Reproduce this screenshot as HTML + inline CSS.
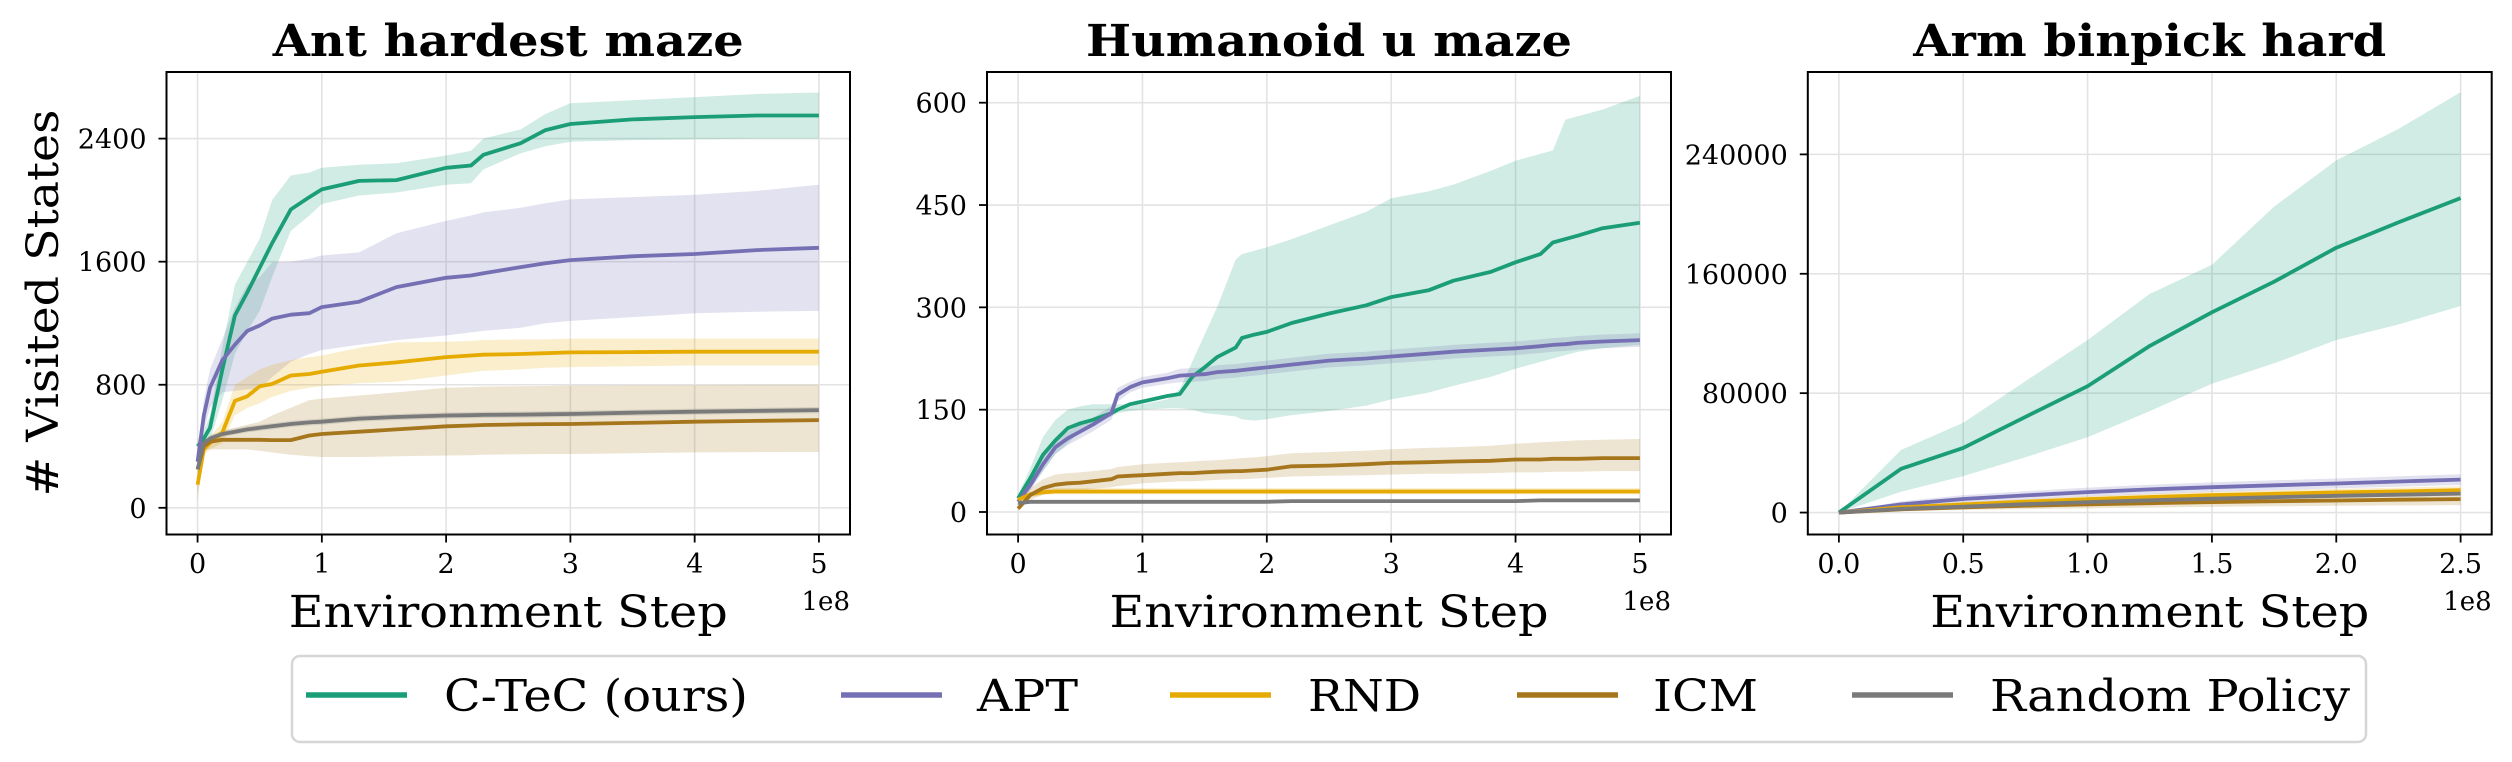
<!DOCTYPE html>
<html><head><meta charset="utf-8"><style>
html,body{margin:0;padding:0;background:#fff;}
svg{display:block;font-family:"DejaVu Serif","Liberation Serif",serif;}
</style></head><body>
<svg id="fig" width="2512" height="762" viewBox="0 0 2512 762" xmlns="http://www.w3.org/2000/svg"></svg>
<script>
// ---- Panel 1: Ant hardest maze (x in 1e8) ----
const antX      = [0,0.05,0.1,0.2,0.3,0.4,0.5,0.6,0.75,0.9,1.0,1.3,1.6,2.0,2.2,2.3,2.6,2.8,3.0,3.5,4.0,4.5,5.0];
const antCtec   = [400,450,520,900,1250,1400,1560,1720,1940,2020,2070,2125,2130,2210,2225,2295,2370,2455,2495,2525,2540,2550,2550];
const antCtecLo = [380,400,440,700,1000,1150,1280,1500,1800,1900,1975,2030,2050,2100,2110,2200,2305,2350,2380,2390,2395,2400,2400];
const antCtecHi = [420,500,600,1050,1450,1600,1750,2000,2160,2180,2210,2230,2240,2290,2320,2400,2460,2560,2630,2650,2670,2690,2700];
const antApt    = [300,600,780,960,1060,1150,1185,1230,1255,1265,1305,1340,1435,1495,1510,1525,1565,1590,1610,1635,1650,1675,1690];
const antAptLo  = [280,500,650,750,760,770,775,850,950,1000,1025,1060,1090,1120,1140,1150,1170,1200,1215,1240,1265,1275,1280];
const antAptHi  = [320,700,900,1100,1300,1450,1500,1595,1600,1620,1640,1660,1785,1865,1900,1920,1950,1980,2005,2020,2035,2060,2100];
const antRnd    = [150,380,420,490,695,725,790,805,860,870,885,925,945,980,990,995,1000,1005,1010,1012,1015,1015,1015];
const antRndLo  = [100,340,380,420,600,650,680,720,760,780,790,810,820,860,880,890,900,910,915,920,925,925,925];
const antRndHi  = [200,420,460,560,800,850,900,930,960,980,990,1040,1075,1080,1085,1090,1095,1095,1100,1100,1100,1100,1100];
const antIcm    = [250,400,430,442,442,442,442,440,440,470,480,495,510,530,535,538,542,544,545,552,560,565,570];
const antIcmLo  = [50,370,380,380,380,380,370,360,345,335,330,330,335,340,342,345,348,350,350,355,360,362,363];
const antIcmHi  = [450,430,470,500,520,540,560,600,650,700,710,730,750,780,785,788,790,792,795,797,798,800,800];
const antRand   = [250,420,450,480,495,510,520,530,545,555,560,580,590,600,602,604,606,608,610,618,625,630,635];
const antRandLo = [230,400,430,460,475,490,500,510,525,535,540,560,570,580,582,584,586,588,590,598,605,610,615];
const antRandHi = [270,440,470,500,515,530,540,550,565,575,580,600,610,620,622,624,626,628,630,638,645,650,655];
const antYTicks = [0,800,1600,2400];
const antYTickLabels = ["0","800","1600","2400"];
const antXTicks = [0,1,2,3,4,5];
const antXTickLabels = ["0","1","2","3","4","5"];

// ---- Panel 2: Humanoid u maze ----
const humX      = [0,0.1,0.2,0.3,0.4,0.5,0.6,0.75,0.8,0.9,1.0,1.2,1.3,1.4,1.5,1.6,1.75,1.8,1.9,2.0,2.2,2.5,2.8,3.0,3.3,3.5,3.8,4.0,4.2,4.3,4.4,4.5,4.7,5.0];
const humCtec   = [20,50,84,105,123,130,135,145,150,158,162,170,173,198,212,227,241,255,260,264,277,291,303,315,325,339,352,366,378,395,400,405,416,424];
const humCtecLo = [15,35,60,85,100,118,130,140,145,148,150,152,152,150,145,143,140,136,134,136,142,148,156,165,175,185,198,210,220,225,230,235,240,245];
const humCtecHi = [25,65,110,135,150,155,158,158,158,158,158,165,180,220,260,300,370,378,383,388,400,420,440,460,470,480,500,515,525,530,575,580,590,610];
const humApt    = [15,40,70,95,108,118,128,145,172,183,190,196,200,201,202,205,207,208,210,212,216,222,225,228,232,235,238,240,243,245,246,248,250,252];
const humAptLo  = [12,32,60,85,98,108,118,135,162,175,182,188,190,191,192,195,197,198,200,202,206,212,215,218,222,225,228,230,233,235,236,238,240,242];
const humAptHi  = [18,48,80,105,118,128,138,155,182,191,198,204,210,211,212,215,217,218,220,222,226,232,235,238,242,245,248,250,253,255,256,258,260,262];
const humRnd    = [18,26,29,30,30,30,30,30,30,30,30,30,30,30,30,30,30,30,30,30,30,30,30,30,30,30,30,30,30,30,30,30,30,30];
const humRndLo  = [14,22,25,26,26,26,26,26,26,26,26,26,26,26,26,26,26,26,26,26,26,26,26,26,26,26,26,26,26,26,26,26,26,26];
const humRndHi  = [22,30,33,35,35,35,35,35,35,35,35,35,35,35,35,35,35,35,35,35,35,35,35,35,35,35,35,35,35,35,35,35,35,35];
const humIcm    = [5,25,35,40,42,43,45,48,52,53,54,56,57,57,58,59,60,60,61,62,67,68,70,72,73,74,75,77,77,78,78,78,79,79];
const humIcmLo  = [2,18,25,28,30,32,34,36,38,40,42,44,45,45,46,47,48,48,49,50,52,53,54,55,56,56,57,58,58,59,59,59,60,60];
const humIcmHi  = [8,35,48,55,57,58,60,63,66,68,70,72,73,74,75,76,78,79,80,82,86,88,90,92,94,95,97,100,102,103,104,105,106,107];
const humRand   = [13,15,15,15,15,15,15,15,15,15,15,15,15,15,15,15,15,15,15,15,16,16,16,16,16,16,16,16,17,17,17,17,17,17];
const humRandLo = [12,14,14,14,14,14,14,14,14,14,14,14,14,14,14,14,14,14,14,14,15,15,15,15,15,15,15,15,16,16,16,16,16,16];
const humRandHi = [14,16,16,16,16,16,16,16,16,16,16,16,16,16,16,16,16,16,16,16,17,17,17,17,17,17,17,17,18,18,18,18,18,18];
const humYTicks = [0,150,300,450,600];
const humYTickLabels = ["0","150","300","450","600"];
const humXTicks = [0,1,2,3,4,5];
const humXTickLabels = ["0","1","2","3","4","5"];

// ---- Panel 3: Arm binpick hard ----
const armX      = [0,0.25,0.5,0.75,1.0,1.25,1.5,1.75,2.0,2.25,2.5];
const armCtec   = [0,29300,43300,64100,84700,111700,134200,154700,177500,194400,210700];
const armCtecLo = [0,14000,24400,37000,50500,68000,86300,100000,115600,126000,138400];
const armCtecHi = [0,42000,60200,88000,115600,146500,166000,205000,236000,257000,281700];
const armApt    = [0,5500,9100,11500,13700,15500,17000,18300,19500,20800,22100];
const armAptLo  = [0,3500,6500,8700,10700,12300,13800,15000,16200,17300,18500];
const armAptHi  = [0,7500,11700,14300,16700,18700,20200,21600,22800,24300,25700];
const armRnd    = [0,3500,5500,7300,9000,10400,11600,12600,13500,14200,15000];
const armRndLo  = [0,2500,4000,5500,7000,8200,9300,10200,11000,11700,12400];
const armRndHi  = [0,4500,7000,9100,11000,12600,13900,15000,16000,16700,17600];
const armIcm    = [0,2200,3500,4600,5500,6300,7000,7600,8100,8600,9000];
const armIcmLo  = [0,1000,1700,2300,2800,3300,3800,4200,4500,4800,5000];
const armIcmHi  = [0,3400,5300,6900,8200,9300,10300,11100,11800,12400,13000];
const armRand   = [0,2500,4000,5600,7000,8200,9300,10300,11200,12000,12700];
const armRandLo = [0,2000,3300,4800,6100,7200,8200,9100,10000,10700,11400];
const armRandHi = [0,3000,4700,6400,7900,9200,10400,11500,12400,13300,14000];
const armYTicks = [0,80000,160000,240000];
const armYTickLabels = ["0","80000","160000","240000"];
const armXTicks = [0,0.5,1.0,1.5,2.0,2.5];
const armXTickLabels = ["0.0","0.5","1.0","1.5","2.0","2.5"];

const legendLabels = ["C-TeC (ours)","APT","RND","ICM","Random Policy"];
const colors = ["#1b9e77","#7570b3","#e6ab02","#a6761d","#7a7a7a"];
const seriesKeys = ["c-tec","apt","rnd","icm","random-policy"];

const NS = "http://www.w3.org/2000/svg";
const svg = document.getElementById("fig");
function mk(tag, attrs, parent){ const e=document.createElementNS(NS,tag); for(const k in attrs) e.setAttribute(k,attrs[k]); (parent||svg).appendChild(e); return e; }

function panel(cfg){
  const g = mk("g",{});
  
  
  const L=cfg.left,R=cfg.right,T=72,B=534.5;
  const xs = v => L + (v-cfg.xmin)/(cfg.xmax-cfg.xmin)*(R-L);
  const ys = v => B - (v-cfg.ymin)/(cfg.ymax-cfg.ymin)*(B-T);
  cfg.xticks.forEach(t=>{ const l=mk("line",{x1:xs(t),x2:xs(t),y1:T,y2:B,stroke:"#e3e3e3","stroke-width":1.6},g);
      });
  cfg.yticks.forEach(t=>{ const l=mk("line",{x1:L,x2:R,y1:ys(t),y2:ys(t),stroke:"#e3e3e3","stroke-width":1.6},g);
      });
  const clip = mk("clipPath",{id:"clip-"+cfg.name},g); mk("rect",{x:L,y:T,width:R-L,height:B-T},clip);
  const plot = mk("g",{"clip-path":"url(#clip-"+cfg.name+")"},g);
  cfg.series.forEach((s,i)=>{
    let d="M"+cfg.x.map((x,j)=>xs(x).toFixed(1)+","+ys(s.hi[j]).toFixed(1)).join("L");
    for(let j=cfg.x.length-1;j>=0;j--) d+="L"+xs(cfg.x[j]).toFixed(1)+","+ys(s.lo[j]).toFixed(1);
    const p=mk("path",{d:d+"Z",fill:colors[i],"fill-opacity":0.2,stroke:"none"},plot);
    
    
  });
  cfg.series.forEach((s,i)=>{
    const pts=cfg.x.map((x,j)=>xs(x).toFixed(1)+","+ys(s.mean[j]).toFixed(1)).join(" ");
    const p=mk("polyline",{points:pts,fill:"none",stroke:colors[i],"stroke-width":3.8,"stroke-linejoin":"round"},plot);
    
    
  });
  const fr=mk("rect",{x:L,y:T,width:R-L,height:B-T,fill:"none",stroke:"#000","stroke-width":2},g);
   
  cfg.xticks.forEach((t,i)=>{
    mk("line",{x1:xs(t),x2:xs(t),y1:B,y2:B+8,stroke:"#000","stroke-width":1.8},g);
    const tx=mk("text",{x:xs(t),y:573,"font-size":27,"text-anchor":"middle"},g); tx.textContent=cfg.xlabels[i];
     
  });
  cfg.yticks.forEach((t,i)=>{
    mk("line",{x1:L-8,x2:L,y1:ys(t),y2:ys(t),stroke:"#000","stroke-width":1.8},g);
    const tx=mk("text",{x:L-20,y:ys(t)+10,"font-size":27,"text-anchor":"end"},g); tx.textContent=cfg.ylabels[i];
     
  });
  const cx=(L+R)/2;
  const ti=mk("text",{x:cx,y:56,"font-size":44,"font-weight":"bold","text-anchor":"middle",textLength:cfg.titleLen,lengthAdjust:"spacingAndGlyphs"},g);
  ti.textContent=cfg.title;  
  const xl=mk("text",{x:cx,y:627,"font-size":44,"text-anchor":"middle",textLength:439,lengthAdjust:"spacingAndGlyphs"},g);
  xl.textContent="Environment Step";  
  const ex=mk("text",{x:R,y:610,"font-size":26,"text-anchor":"end"},g);
  ex.textContent="1e8";  
}

panel({name:"ant-hardest-maze",title:"Ant hardest maze",titleLen:471,left:166.5,right:850,xmin:-0.25,xmax:5.25,ymin:-173.5,ymax:2833,
  x:antX,xticks:antXTicks,xlabels:antXTickLabels,yticks:antYTicks,ylabels:antYTickLabels,
  series:[{mean:antCtec,lo:antCtecLo,hi:antCtecHi},{mean:antApt,lo:antAptLo,hi:antAptHi},{mean:antRnd,lo:antRndLo,hi:antRndHi},{mean:antIcm,lo:antIcmLo,hi:antIcmHi},{mean:antRand,lo:antRandLo,hi:antRandHi}]});
panel({name:"humanoid-u-maze",title:"Humanoid u maze",titleLen:486,left:987,right:1671,xmin:-0.25,xmax:5.25,ymin:-33,ymax:645,
  x:humX,xticks:humXTicks,xlabels:humXTickLabels,yticks:humYTicks,ylabels:humYTickLabels,
  series:[{mean:humCtec,lo:humCtecLo,hi:humCtecHi},{mean:humApt,lo:humAptLo,hi:humAptHi},{mean:humRnd,lo:humRndLo,hi:humRndHi},{mean:humIcm,lo:humIcmLo,hi:humIcmHi},{mean:humRand,lo:humRandLo,hi:humRandHi}]});
panel({name:"arm-binpick-hard",title:"Arm binpick hard",titleLen:473,left:1807.8,right:2491.7,xmin:-0.125,xmax:2.625,ymin:-14700,ymax:295200,
  x:armX,xticks:armXTicks,xlabels:armXTickLabels,yticks:armYTicks,ylabels:armYTickLabels,
  series:[{mean:armCtec,lo:armCtecLo,hi:armCtecHi},{mean:armApt,lo:armAptLo,hi:armAptHi},{mean:armRnd,lo:armRndLo,hi:armRndHi},{mean:armIcm,lo:armIcmLo,hi:armIcmHi},{mean:armRand,lo:armRandLo,hi:armRandHi}]});

const yl=mk("text",{transform:"translate(58,303) rotate(-90)","font-size":44,"text-anchor":"middle",textLength:387,lengthAdjust:"spacingAndGlyphs"});
yl.textContent="# Visited States";



const lg=mk("g",{});


mk("rect",{x:292,y:656,width:2074,height:86,rx:8,fill:"#fff",stroke:"#d6d6d6","stroke-width":2.5},lg);
const lineX=[306,841,1170,1517,1852], textX=[444,977,1308,1653,1990], textW=[304,101,113,105,360];
legendLabels.forEach((lab,i)=>{
  const e=mk("g",{},lg);
  
  
  mk("line",{x1:lineX[i],x2:lineX[i]+101,y1:695,y2:695,stroke:colors[i],"stroke-width":5.5},e);
  const t=mk("text",{x:textX[i],y:711,"font-size":44,textLength:textW[i],lengthAdjust:"spacingAndGlyphs"},e);
  t.textContent=lab;
});
</script>
</body></html>
